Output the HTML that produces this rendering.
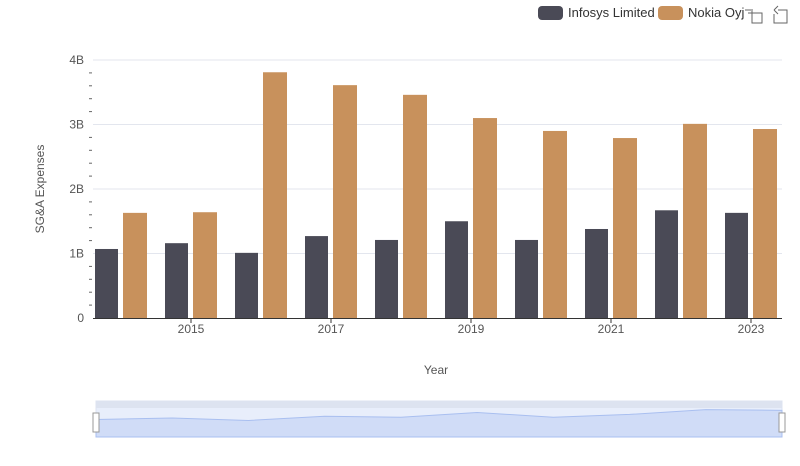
<!DOCTYPE html>
<html><head><meta charset="utf-8"><style>
body{margin:0;background:#fff;font-family:"Liberation Sans",sans-serif;}
svg text{font-family:"Liberation Sans",sans-serif;}
</style></head><body>
<svg id="c" width="800" height="461" xmlns="http://www.w3.org/2000/svg">
<g>
<g><rect x="538" y="6" width="25" height="14" rx="4" fill="#4a4a56"/><text x="568" y="17" font-size="13" fill="#333">Infosys Limited</text></g>
<g><rect x="658" y="6" width="25" height="14" rx="4" fill="#c8915c"/><text x="688" y="17" font-size="13" fill="#333">Nokia Oyj</text></g>
<g stroke="#666" fill="none"><path d="M748 13h14v10h-10v-14"/><path d="M745 10h6"/></g>
<g stroke="#666" fill="none"><path d="M778 10h9v13h-13v-9"/><path d="M774 10l4-4M774 10l4 4"/></g>
</g>
<text transform="translate(44,189) rotate(-90)" text-anchor="middle" font-size="12" fill="#555">SG&amp;A Expenses</text>
<text x="436" y="374" text-anchor="middle" font-size="12" fill="#555">Year</text>
<g id="grid"></g><g id="bars"></g><g id="axes"></g>
<g>
<rect x="96" y="401" width="686" height="36" fill="#e8eefb" stroke="#dde3f0"/>
<rect x="96" y="401" width="686" height="7" fill="#dde3f0"/>
<path id="spark" fill="#d0dcf7" stroke="#a9bff0"/>
<rect x="93" y="413" width="6" height="19" fill="#fff" stroke="#999"/>
<rect x="779" y="413" width="6" height="19" fill="#fff" stroke="#999"/>
</g>
</svg>
<script>
const years=[2014,2015,2016,2017,2018,2019,2020,2021,2022,2023];
const infosys=[1.07,1.16,1.01,1.27,1.21,1.50,1.21,1.38,1.67,1.63];
const nokia=[1.63,1.64,3.81,3.61,3.46,3.10,2.90,2.79,3.01,2.93];
const yTicks=[0,1,2,3,4];
const yLabels=["0","1B","2B","3B","4B"];
const xLabels=[2015,2017,2019,2021,2023];
const NS="http://www.w3.org/2000/svg";
const x=yr=>121+(yr-2014)*70;
const y=v=>318-v*64.5;
function mk(t,a,p){const e=document.createElementNS(NS,t);for(const k in a)e.setAttribute(k,a[k]);p.appendChild(e);return e;}
const grid=document.getElementById('grid'),bars=document.getElementById('bars'),axes=document.getElementById('axes');
yTicks.forEach((v,i)=>{
 if(v>0){const g=mk('line',{x1:93,x2:782,y1:y(v),y2:y(v),stroke:'#e3e6ee'},grid);
 
 }
 const t=mk('text',{x:84,y:y(v)+4,'text-anchor':'end','font-size':12,fill:'#555'},axes);t.textContent=yLabels[i];
 
 
 if(i<yTicks.length-1)for(let m=1;m<5;m++){const mt=mk('line',{x1:89,x2:92,y1:y(v+m*0.2),y2:y(v+m*0.2),stroke:'#666'},axes);
 
 }
});
const ax=mk('line',{x1:93,x2:782,y1:318.5,y2:318.5,stroke:'#333'},axes);


xLabels.forEach(l=>{const t=mk('text',{x:x(l),y:333,'text-anchor':'middle','font-size':12,fill:'#555'},axes);t.textContent=l;
 
 
 const tk=mk('line',{x1:x(l),x2:x(l),y1:318,y2:323,stroke:'#333'},axes);
 
 });
years.forEach((yr,i)=>{
 const a=mk('rect',{x:x(yr)-26,y:y(infosys[i]),width:23,height:318-y(infosys[i]),fill:'#4a4a56'},bars);
 
 
 const b=mk('rect',{x:x(yr)+2,y:y(nokia[i]),width:24,height:318-y(nokia[i]),fill:'#c8915c'},bars);
 
 
});
const sx=i=>96+i*686/(years.length-1), sy=v=>437-(v/2.2)*36;
let d='M96 437';infosys.forEach((v,i)=>d+=' L'+sx(i)+' '+sy(v));d+=' L782 437Z';
document.getElementById('spark').setAttribute('d',d);
</script>
</body></html>
